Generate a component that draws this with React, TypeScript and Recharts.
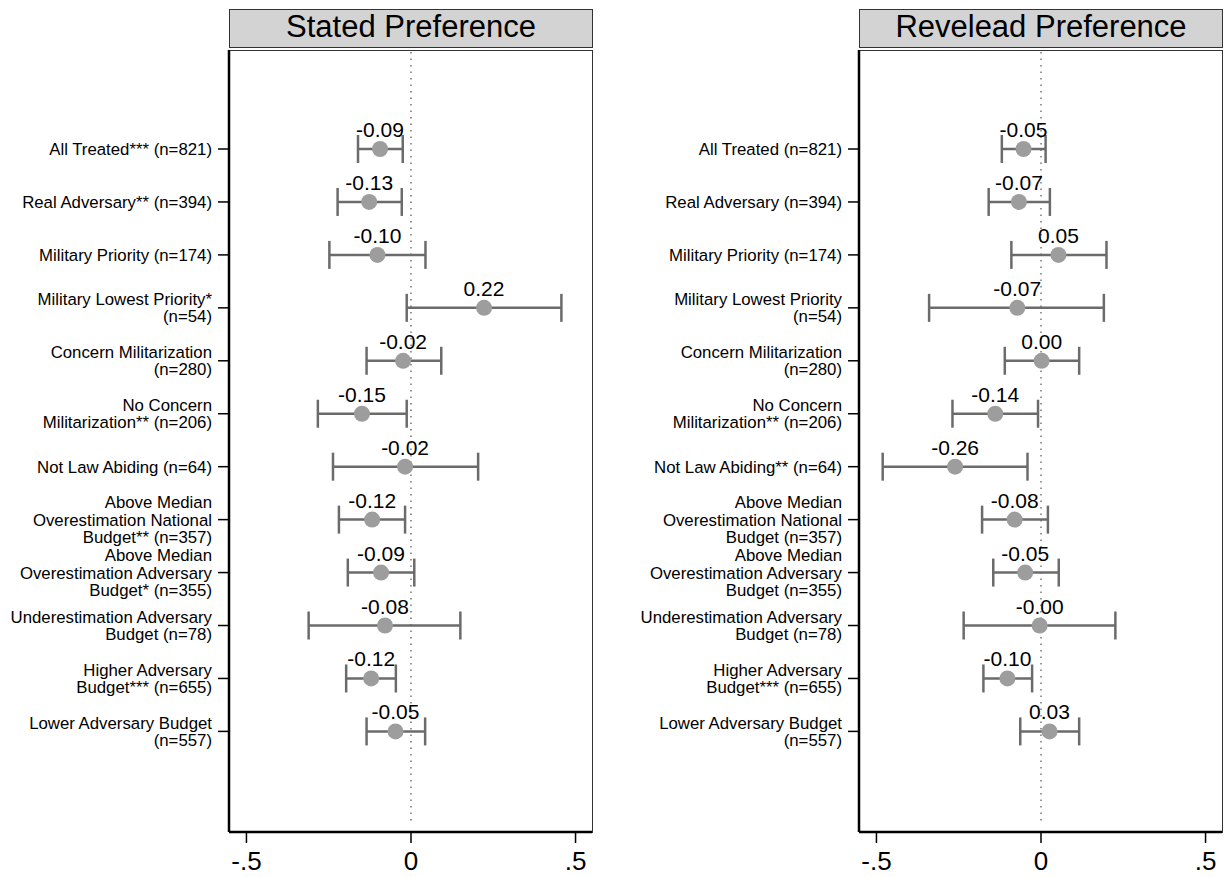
import React from "react";
import { ScatterChart, Scatter, XAxis, YAxis, ErrorBar, ReferenceLine } from "recharts";

const rows = [1, 2, 3, 4, 5, 6, 7, 8, 9, 10, 11, 12];

const statedLabels = [
  "All Treated*** (n=821)",
  "Real Adversary** (n=394)",
  "Military Priority (n=174)",
  "Military Lowest Priority*\n(n=54)",
  "Concern Militarization\n(n=280)",
  "No Concern\nMilitarization** (n=206)",
  "Not Law Abiding (n=64)",
  "Above Median\nOverestimation National\nBudget** (n=357)",
  "Above Median\nOverestimation Adversary\nBudget* (n=355)",
  "Underestimation Adversary\nBudget (n=78)",
  "Higher Adversary\nBudget*** (n=655)",
  "Lower Adversary Budget\n(n=557)",
];
const statedEst = [-0.094, -0.127, -0.102, 0.222, -0.024, -0.149, -0.018, -0.118, -0.091, -0.079, -0.121, -0.047];
const statedLo = [-0.161, -0.223, -0.248, -0.013, -0.135, -0.283, -0.237, -0.219, -0.192, -0.311, -0.197, -0.135];
const statedHi = [-0.025, -0.028, 0.044, 0.457, 0.092, -0.013, 0.204, -0.018, 0.01, 0.15, -0.046, 0.043];

const revealedLabels = [
  "All Treated (n=821)",
  "Real Adversary (n=394)",
  "Military Priority (n=174)",
  "Military Lowest Priority\n(n=54)",
  "Concern Militarization\n(n=280)",
  "No Concern\nMilitarization** (n=206)",
  "Not Law Abiding** (n=64)",
  "Above Median\nOverestimation National\nBudget (n=357)",
  "Above Median\nOverestimation Adversary\nBudget (n=355)",
  "Underestimation Adversary\nBudget (n=78)",
  "Higher Adversary\nBudget*** (n=655)",
  "Lower Adversary Budget\n(n=557)",
];
const revealedEst = [-0.053, -0.067, 0.053, -0.072, 0.002, -0.139, -0.261, -0.08, -0.048, -0.004, -0.102, 0.026];
const revealedLo = [-0.119, -0.159, -0.09, -0.34, -0.11, -0.269, -0.481, -0.179, -0.145, -0.235, -0.175, -0.063];
const revealedHi = [0.014, 0.027, 0.199, 0.191, 0.116, -0.009, -0.041, 0.021, 0.054, 0.226, -0.027, 0.116];

const xTicks = [-0.5, 0, 0.5];
const xTickLabels = ["-.5", "0", ".5"];

const FONT = "'Liberation Sans', Arial, Helvetica, sans-serif";
const X_DOMAIN: [number, number] = [-0.553, 0.55];
const Y_DOMAIN: [number, number] = [-0.87, 13.9];

function buildData(est: number[], lo: number[], hi: number[]) {
  return rows.map((r, i) => ({
    row: r,
    est: est[i],
    err: [est[i] - lo[i], hi[i] - est[i]],
    label: est[i].toFixed(2),
  }));
}

const PLOT_TOP = 50;
const PLOT_BOTTOM = 832;
const PLOT_W = 363;

function Panel({
  left,
  width,
  axisW,
  title,
  labels,
  data,
}: {
  left: number;
  width: number;
  axisW: number;
  title: string;
  labels: string[];
  data: any[];
}) {
  const plotLeft = left + axisW;
  const renderYTick = (p: any) => {
    const idx = Number(p.payload.value) - 1;
    const lines = (labels[idx] || "").split("\n");
    const L = 17.3;
    const n = lines.length;
    return (
      <text x={p.x} y={p.y} textAnchor="end" fontSize={16.8} fill="#000" fontFamily={FONT}>
        {lines.map((ln, i) => (
          <tspan key={i} x={p.x} y={p.y + (i - (n - 1) / 2) * L + 6}>
            {ln}
          </tspan>
        ))}
      </text>
    );
  };
  const shape = (p: any) => (
    <g>
      <circle cx={p.cx} cy={p.cy} r={8} fill="#9d9d9d" />
      <text x={p.cx} y={p.cy - 12} textAnchor="middle" fontSize={21} fill="#000" fontFamily={FONT}>
        {p.payload.label}
      </text>
    </g>
  );
  return (
    <>
      <div
        style={{
          position: "absolute",
          left: plotLeft,
          top: 9,
          width: PLOT_W + 1,
          height: 39,
          boxSizing: "border-box",
          background: "#d3d3d3",
          border: "1.5px solid #333",
          textAlign: "center",
          fontFamily: FONT,
          fontSize: 31,
          lineHeight: "33px",
          color: "#000",
        }}
      >
        {title}
      </div>
      <div
        style={{
          position: "absolute",
          left: plotLeft,
          top: PLOT_TOP - 0.5,
          width: PLOT_W + 1,
          height: PLOT_BOTTOM - PLOT_TOP + 1,
          boxSizing: "border-box",
          border: "1.5px solid #333",
        }}
      />
      <div style={{ position: "absolute", left, top: 0 }}>
        <ScatterChart
          width={width}
          height={877}
          margin={{ top: PLOT_TOP, right: width - axisW - PLOT_W, bottom: 0, left: 0 }}
        >
          <XAxis
            type="number"
            dataKey="est"
            domain={X_DOMAIN}
            allowDataOverflow
            ticks={xTicks}
            tickFormatter={(v: number) => xTickLabels[xTicks.indexOf(v)] ?? String(v)}
            height={877 - PLOT_BOTTOM}
            tickSize={11}
            tickMargin={9}
            axisLine={{ stroke: "#000", strokeWidth: 2.5 }}
            tickLine={{ stroke: "#000", strokeWidth: 1.5 }}
            tick={{ fontSize: 26, fill: "#000", fontFamily: FONT }}
            interval={0}
          />
          <YAxis
            type="number"
            dataKey="row"
            domain={Y_DOMAIN}
            allowDataOverflow
            reversed
            ticks={rows}
            width={axisW}
            tickSize={11}
            tickMargin={6}
            interval={0}
            axisLine={{ stroke: "#000", strokeWidth: 2.5 }}
            tickLine={{ stroke: "#000", strokeWidth: 1.5 }}
            tick={renderYTick}
          />
          <ReferenceLine
            segment={[
              { x: 0, y: -0.83 },
              { x: 0, y: 13.73 },
            ]}
            stroke="#777"
            strokeWidth={1.5}
            strokeDasharray="1.5 5"
          />
          <Scatter data={data} shape={shape} isAnimationActive={false}>
            <ErrorBar dataKey="err" direction="x" width={14} stroke="#6b6b6b" strokeWidth={2.5} />
          </Scatter>
        </ScatterChart>
      </div>
    </>
  );
}

export default function App() {
  const stated = buildData(statedEst, statedLo, statedHi);
  const revealed = buildData(revealedEst, revealedLo, revealedHi);
  return (
    <div style={{ position: "absolute", left: 0, top: 0, width: 1225, height: 877, background: "#fff" }}>
      <Panel left={0} width={612} axisW={229} title="Stated Preference" labels={statedLabels} data={stated} />
      <Panel left={612} width={613} axisW={247} title="Revelead Preference" labels={revealedLabels} data={revealed} />
    </div>
  );
}
